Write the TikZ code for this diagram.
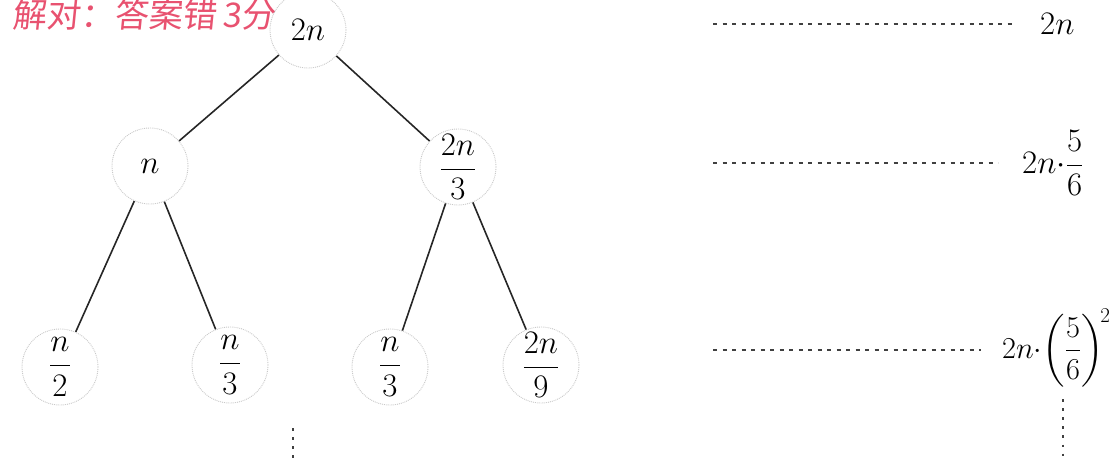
\documentclass[tikz,border=0pt]{standalone}
\usepackage{amsmath}
\usepackage{graphicx}
\usepackage{fontspec}
\newfontfamily\cjk{Noto Sans CJK SC}
\newcommand{\mathbig}[2][1.32]{\scalebox{#1}{\fontsize{24}{28}\selectfont$#2$}}
\definecolor{hand}{RGB}{232,82,112}
\definecolor{ring}{RGB}{200,200,200}
\begin{document}
\begin{tikzpicture}[x=1pt,y=-1pt,
  tnode/.style={circle, draw=ring, densely dotted, line width=0.9pt, minimum size=76pt, inner sep=0pt},
  lbl/.style={anchor=west, inner sep=0pt},
  edgeline/.style={line width=1.6pt, black!85},
  lvl/.style={line width=1.6pt, black!75, dash pattern=on 4pt off 5.5pt},
  vdots/.style={line width=2.6pt, black!75, dash pattern=on 2.6pt off 6.5pt}]
\useasboundingbox (0,0) rectangle (1111,463);

% handwritten note
\node[anchor=west, inner sep=0pt, text=hand, font=\cjk\fontsize{34}{36}\selectfont, xslant=0.1] (hw) at (14,15) {解对：答案错\,3分};

% tree nodes
\node[tnode] (r) at (308,30) {\mathbig{2n}};
\node[tnode] (a) at (150,166) {\mathbig{n}};
\node[tnode] (b) at (458,167) {\mathbig{\dfrac{2n}{3}}};
\node[tnode] (aa) at (60,367) {\mathbig{\dfrac{n}{2}}};
\node[tnode] (ab) at (230,365) {\mathbig{\dfrac{n}{3}}};
\node[tnode] (ba) at (390,367) {\mathbig{\dfrac{n}{3}}};
\node[tnode] (bb) at (541,365) {\mathbig{\dfrac{2n}{9}}};

% edges
\draw[edgeline] (r) -- (a);
\draw[edgeline] (r) -- (b);
\draw[edgeline] (a) -- (aa);
\draw[edgeline] (a) -- (ab);
\draw[edgeline] (b) -- (ba);
\draw[edgeline] (b) -- (bb);

% level sums
\node[lbl] (l1) at (1040,24) {\mathbig{2n}};
\node[lbl] (l2) at (1022,163) {\mathbig{2n{\cdot}\dfrac{5}{6}}};
\node[lbl] (l3) at (1002,348) {\mathbig[1.22]{2n{\cdot}\!\left(\dfrac{5}{6}\right)^{\!2}}};

\coordinate (d1) at (713,24);
\coordinate (d2) at (713,163);
\coordinate (d3) at (713,350);
\draw[lvl] (d1) -- ([xshift=-24pt]l1.west);
\draw[lvl] (d2) -- ([xshift=-24pt]l2.west);
\draw[lvl] (d3) -- ([xshift=-21pt]l3.west|-d3);

% vertical continuation dots
\coordinate (v1s) at (293,428);
\coordinate (v1e) at (293,463);
\draw[vdots] (v1s) -- (v1e);
\coordinate (v2s) at (1063,399);
\coordinate (v2e) at (1063,456);
\draw[vdots] (v2s) -- (v2e);
\end{tikzpicture}
\end{document}
